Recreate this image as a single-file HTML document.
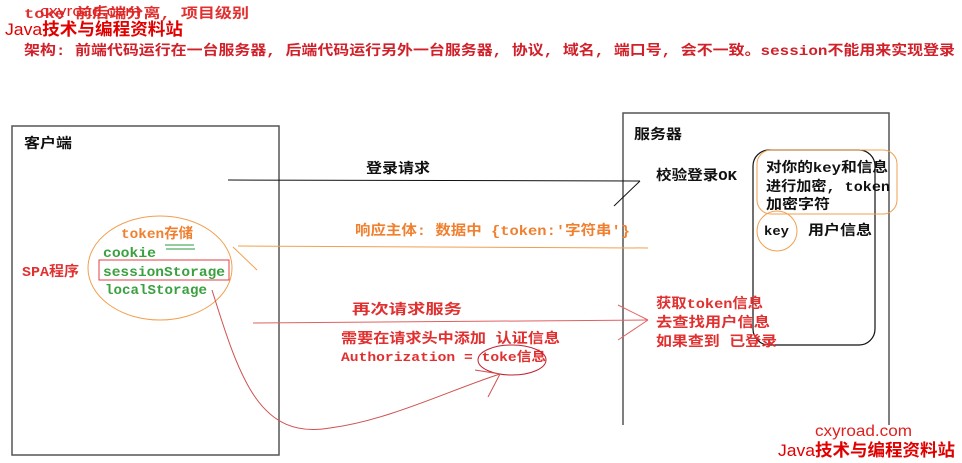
<!DOCTYPE html>
<html><head><meta charset="utf-8"><style>
html,body{margin:0;padding:0;background:#fff;}
svg{display:block;}
text{font-family:"Liberation Mono","Noto Sans CJK SC",monospace;font-weight:bold;}
.w{font-family:"Liberation Sans","Noto Sans CJK SC",sans-serif;font-weight:normal;}
</style></head><body>
<svg width="962" height="463" viewBox="0 0 962 463" xmlns="http://www.w3.org/2000/svg">
<rect width="962" height="463" fill="#fff"/>
<!-- header -->
<text x="24" y="18" font-size="14" fill="#e03030" textLength="225" lengthAdjust="spacingAndGlyphs">toke  前后端分离, 项目级别</text>
<text x="40" y="16" font-size="15" fill="#e02020" class="w" textLength="100" lengthAdjust="spacingAndGlyphs">cxyroad.com</text>
<text x="5" y="35" font-size="17" fill="#e00000" class="w" textLength="178" lengthAdjust="spacingAndGlyphs">Java<tspan font-weight="bold">技术与编程资料站</tspan></text>
<text x="24" y="55" font-size="14" fill="#d0202a" textLength="931" lengthAdjust="spacingAndGlyphs">架构: 前端代码运行在一台服务器, 后端代码运行另外一台服务器, 协议, 域名, 端口号, 会不一致。session不能用来实现登录</text>
<!-- boxes -->
<rect x="12" y="126" width="267" height="329" fill="none" stroke="#555" stroke-width="1.5"/>
<polyline points="623,425 623,113 889,113 889,425" fill="none" stroke="#555" stroke-width="1.5"/>
<text x="24" y="148" font-size="14" fill="#111" textLength="48" lengthAdjust="spacingAndGlyphs">客户端</text>
<text x="634" y="139" font-size="14" fill="#111" textLength="48" lengthAdjust="spacingAndGlyphs">服务器</text>
<!-- login request -->
<line x1="228" y1="180" x2="640" y2="181" stroke="#111" stroke-width="1"/>
<line x1="614" y1="206" x2="640" y2="181" stroke="#111" stroke-width="1"/>
<text x="366" y="173" font-size="14" fill="#111" textLength="64" lengthAdjust="spacingAndGlyphs">登录请求</text>
<text x="656" y="180" font-size="14" fill="#111" textLength="81" lengthAdjust="spacingAndGlyphs">校验登录OK</text>
<!-- server inner -->
<rect x="753" y="150" width="122" height="195" rx="16" fill="none" stroke="#111" stroke-width="1.2"/>
<rect x="757" y="150" width="140" height="64" rx="14" fill="none" stroke="#f0a050" stroke-width="1"/>
<text x="766" y="172" font-size="14" fill="#111" textLength="122" lengthAdjust="spacingAndGlyphs">对你的key和信息</text>
<text x="766" y="191" font-size="14" fill="#111" textLength="124" lengthAdjust="spacingAndGlyphs">进行加密, token</text>
<text x="766" y="209" font-size="14" fill="#111" textLength="64" lengthAdjust="spacingAndGlyphs">加密字符</text>
<ellipse cx="777" cy="231" rx="20" ry="20" fill="none" stroke="#f0a050" stroke-width="1"/>
<text x="764" y="235" font-size="13" fill="#111" textLength="25" lengthAdjust="spacingAndGlyphs">key</text>
<text x="808" y="235" font-size="14" fill="#111" textLength="64" lengthAdjust="spacingAndGlyphs">用户信息</text>
<!-- response -->
<text x="355" y="235" font-size="14" fill="#f08030" textLength="275" lengthAdjust="spacingAndGlyphs">响应主体: 数据中 {token:'字符串'}</text>
<line x1="238" y1="246" x2="648" y2="248" stroke="#f0a050" stroke-width="1"/>
<line x1="233" y1="247" x2="257" y2="270" stroke="#f0a050" stroke-width="1"/>
<!-- client ellipse -->
<ellipse cx="160" cy="268" rx="72" ry="52" fill="none" stroke="#f0a050" stroke-width="1"/>
<text x="121" y="238" font-size="14" fill="#f08030" textLength="72" lengthAdjust="spacingAndGlyphs">token存储</text>
<line x1="165" y1="245" x2="194" y2="245" stroke="#2a9a40"/><line x1="166" y1="249" x2="195" y2="249" stroke="#2a9a40"/>
<text x="103" y="257" font-size="14" fill="#3aa040" textLength="53" lengthAdjust="spacingAndGlyphs">cookie</text>
<rect x="99" y="260" width="130" height="20" fill="none" stroke="#e04040" stroke-width="1"/>
<text x="103" y="276" font-size="14" fill="#3aa040" textLength="122" lengthAdjust="spacingAndGlyphs">sessionStorage</text>
<text x="105" y="294" font-size="14" fill="#3aa040" textLength="102" lengthAdjust="spacingAndGlyphs">localStorage</text>
<text x="22" y="276" font-size="14" fill="#e03030" textLength="57" lengthAdjust="spacingAndGlyphs">SPA程序</text>
<!-- second request -->
<text x="352" y="314" font-size="14" fill="#e03030" textLength="110" lengthAdjust="spacingAndGlyphs">再次请求服务</text>
<line x1="253" y1="323" x2="648" y2="320" stroke="#e06060" stroke-width="1"/>
<line x1="618" y1="305" x2="648" y2="320" stroke="#e06060"/><line x1="618" y1="340" x2="648" y2="320" stroke="#e06060"/>
<text x="341" y="343" font-size="14" fill="#e03030" textLength="219" lengthAdjust="spacingAndGlyphs">需要在请求头中添加 认证信息</text>
<text x="341" y="361" font-size="13" fill="#e03030" textLength="205" lengthAdjust="spacingAndGlyphs">Authorization = toke信息</text>
<ellipse cx="512" cy="360" rx="34" ry="15" fill="none" stroke="#c02030" stroke-width="1"/>
<path d="M212,290 C240,380 260,440 330,428 C390,420 450,390 500,374" fill="none" stroke="#d05050" stroke-width="1"/>
<line x1="475" y1="370" x2="500" y2="374" stroke="#d05050"/><line x1="488" y1="397" x2="500" y2="374" stroke="#d05050"/>
<text x="656" y="308" font-size="14" fill="#e03030" textLength="107" lengthAdjust="spacingAndGlyphs">获取token信息</text>
<text x="656" y="327" font-size="14" fill="#e03030" textLength="114" lengthAdjust="spacingAndGlyphs">去查找用户信息</text>
<text x="656" y="346" font-size="14" fill="#e03030" textLength="121" lengthAdjust="spacingAndGlyphs">如果查到 已登录</text>
<!-- watermark -->
<text x="815" y="436" font-size="16" fill="#e02020" class="w" textLength="97" lengthAdjust="spacingAndGlyphs">cxyroad.com</text>
<text x="778" y="456" font-size="17" fill="#e00000" class="w" textLength="177" lengthAdjust="spacingAndGlyphs">Java<tspan font-weight="bold">技术与编程资料站</tspan></text>
</svg>
</body></html>
